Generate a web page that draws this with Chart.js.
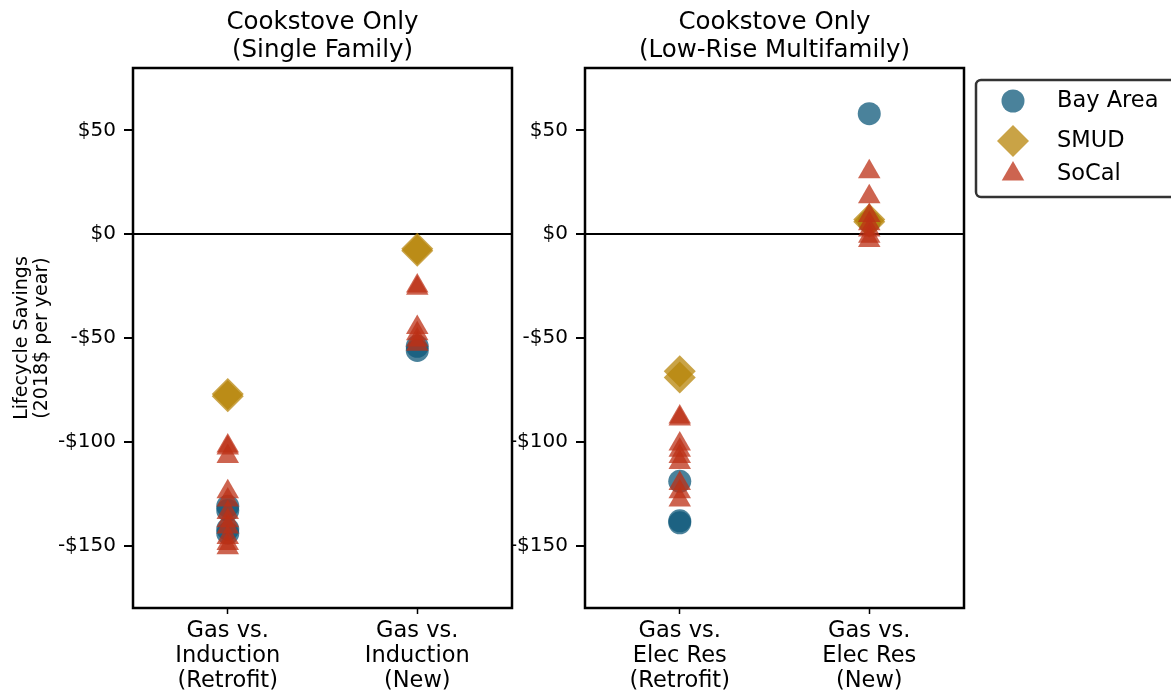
<!DOCTYPE html>
<html>
<head>
<meta charset="utf-8">
<script src="https://cdn.jsdelivr.net/npm/chart.js@4/dist/chart.umd.min.js"></script>
<style>
  body { margin: 0; background: #fff; }
  #wrap { position: relative; width: 1171px; height: 696px; overflow: hidden; }
  canvas { position: absolute; top: 0; }
  #chartLeft { left: 0; }
  #chartRight { left: 512px; }
</style>
</head>
<body>
<div id="wrap">
  <canvas id="chartLeft" width="560" height="696"></canvas>
  <canvas id="chartRight" width="659" height="696"></canvas>
</div>
<script>
// Data

var regions = ['Bay Area', 'SMUD', 'SoCal'];
var yTickValues = [-150, -100, -50, 0, 50];
var leftCategories = [['Gas vs.', 'Induction', '(Retrofit)'], ['Gas vs.', 'Induction', '(New)']];
var rightCategories = [['Gas vs.', 'Elec Res', '(Retrofit)'], ['Gas vs.', 'Elec Res', '(New)']];

// single family, cookstove only
var sfBayRetrofit = [-131, -133, -142, -144];
var sfBayNew = [-54, -56];
var sfSmudRetrofit = [-77, -78];
var sfSmudNew = [-7, -8];
var sfSocalRetrofit = [-102, -103, -107, -124, -128, -134, -138, -141, -146, -149, -151];
var sfSocalNew = [-25, -26, -45, -48, -51, -53];

// low-rise multifamily, cookstove only
var mfBayRetrofit = [-119, -138, -139];
var mfBayNew = [58, 6];
var mfSmudRetrofit = [-66, -69];
var mfSmudNew = [6, 7];
var mfSocalRetrofit = [-88, -89, -101, -104, -107, -110, -120, -124, -128];
var mfSocalNew = [30, 18, 9, 5, 2, -1, -3];

var colors = ['rgba(14, 88, 122, 0.75)', 'rgba(183, 132, 8, 0.75)', 'rgba(188, 48, 22, 0.75)'];
var styles = ['circle', 'rectRot', 'triangle'];
var radii = [11.5, 16, 13];
var FONT = 'DejaVu Sans';

function toPoints(retrofit, newCase) {
  return retrofit.map(function (v) { return { x: 0, y: v }; })
    .concat(newCase.map(function (v) { return { x: 1, y: v }; }));
}

function dollar(v) {
  return v < 0 ? '-$' + Math.abs(v) : '$' + v;
}

// box round the plot area
var framePlugin = {
  id: 'frame',
  afterDatasetsDraw: function (chart) {
    var a = chart.chartArea;
    var ctx = chart.ctx;
    ctx.save();
    ctx.strokeStyle = '#000';
    ctx.lineWidth = 2.5;
    ctx.strokeRect(a.left, a.top, a.right - a.left, a.bottom - a.top);
    ctx.restore();
  }
};

var legendPlugin = {
  id: 'boxLegend',
  afterDraw: function (chart) {
    var ctx = chart.ctx;
    var bx = chart.chartArea.right + 12;
    var by = 80;
    ctx.save();
    ctx.fillStyle = '#fff';
    ctx.strokeStyle = '#333';
    ctx.lineWidth = 2.5;
    ctx.beginPath();
    ctx.roundRect(bx, by, 240, 117, 5);
    ctx.fill();
    ctx.stroke();
    var rowsY = [101, 141, 174];
    for (var i = 0; i < regions.length; i++) {
      ctx.fillStyle = colors[i];
      Chart.helpers.drawPoint(ctx, { pointStyle: styles[i], radius: radii[i], rotation: 0, borderWidth: 0 }, bx + 37, rowsY[i]);
      ctx.fillStyle = '#000';
      ctx.font = '22.5px "' + FONT + '"';
      ctx.textBaseline = 'middle';
      ctx.textAlign = 'left';
      ctx.fillText(regions[i], bx + 81, rowsY[i]);
    }
    ctx.restore();
  }
};

function makeChart(id, title, categories, series, axisWidth, rightPad, yTitle, withLegend) {
  var datasets = [];
  for (var i = 0; i < regions.length; i++) {
    datasets.push({
      label: regions[i],
      data: toPoints(series[i][0], series[i][1]),
      pointStyle: styles[i],
      pointRadius: radii[i],
      backgroundColor: colors[i],
      borderColor: colors[i],
      borderWidth: 0,
      order: regions.length - i
    });
  }
  return new Chart(document.getElementById(id), {
    type: 'scatter',
    data: { datasets: datasets },
    options: {
      responsive: false,
      animation: false,
      events: [],
      layout: { padding: { left: 0, top: 0, right: rightPad, bottom: 0 } },
      plugins: {
        legend: { display: false },
        tooltip: { enabled: false },
        title: {
          display: true,
          fullSize: false,
          text: title,
          color: '#000',
          font: { family: FONT, size: 24.5, weight: 'normal', lineHeight: 28 / 24.5 },
          padding: { top: 9, bottom: 3 }
        }
      },
      scales: {
        x: {
          type: 'linear',
          min: -0.5,
          max: 1.5,
          afterBuildTicks: function (scale) {
            scale.ticks = [{ value: 0 }, { value: 1 }];
          },
          afterFit: function (scale) { scale.height = 88; },
          grid: { drawOnChartArea: false, tickLength: 6, tickColor: '#000', tickWidth: 1.5 },
          border: { display: false },
          ticks: {
            color: '#000',
            padding: 5,
            maxRotation: 0,
            font: { family: FONT, size: 22.5, lineHeight: 25 / 22.5 },
            callback: function (v) { return categories[v]; }
          }
        },
        y: {
          min: -180,
          max: 80,
          afterBuildTicks: function (scale) {
            scale.ticks = yTickValues.map(function (v) { return { value: v }; });
          },
          afterFit: function (scale) { scale.width = axisWidth; },
          grid: {
            color: function (c) { return c.tick && c.tick.value === 0 ? '#000' : 'rgba(0,0,0,0)'; },
            lineWidth: 2,
            tickLength: 9,
            tickColor: '#000',
            tickWidth: 2
          },
          border: { display: false },
          title: {
            display: yTitle !== null,
            text: yTitle,
            color: '#000',
            font: { family: FONT, size: 19, lineHeight: 20 / 19 },
            padding: { top: 12, bottom: 0 }
          },
          ticks: {
            color: '#000',
            padding: 8,
            font: { family: FONT, size: 20 },
            callback: function (v) { return dollar(v); }
          }
        }
      }
    },
    plugins: withLegend ? [framePlugin, legendPlugin] : [framePlugin]
  });
}

var chartLeft = makeChart('chartLeft', ['Cookstove Only', '(Single Family)'], leftCategories,
  [[sfBayRetrofit, sfBayNew], [sfSmudRetrofit, sfSmudNew], [sfSocalRetrofit, sfSocalNew]],
  133, 48, ['Lifecycle Savings', '(2018$ per year)'], false);

var chartRight = makeChart('chartRight', ['Cookstove Only', '(Low-Rise Multifamily)'], rightCategories,
  [[mfBayRetrofit, mfBayNew], [mfSmudRetrofit, mfSmudNew], [mfSocalRetrofit, mfSocalNew]],
  73, 207, null, true);
</script>
</body>
</html>
